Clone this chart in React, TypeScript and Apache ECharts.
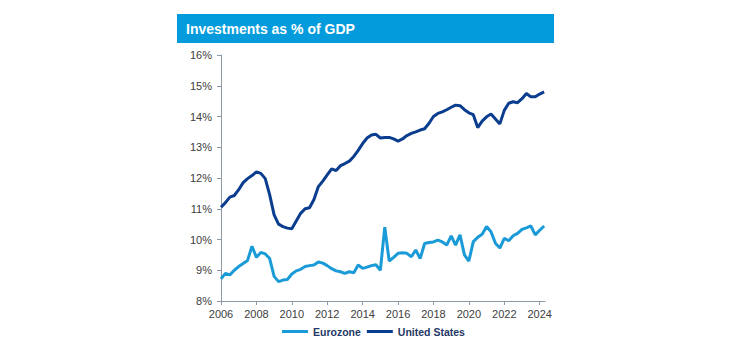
import React, { useEffect, useRef } from "react";
import * as echarts from "echarts";

const startYear = 2006;
const eurozone: number[] = [
  8.72, 8.9, 8.85, 9.0, 9.12, 9.22, 9.32, 9.78, 9.42, 9.58, 9.53, 9.38, 8.8, 8.63, 8.68, 8.7,
  8.88, 8.98, 9.03, 9.12, 9.15, 9.17, 9.27, 9.23, 9.15, 9.05, 8.98, 8.95, 8.9, 8.95, 8.92, 9.17,
  9.06, 9.1, 9.15, 9.18, 9.0, 10.4, 9.3, 9.42, 9.55, 9.57, 9.55, 9.44, 9.66, 9.38, 9.87, 9.9,
  9.92, 9.98, 9.92, 9.82, 10.12, 9.82, 10.15, 9.5, 9.3, 9.93, 10.07, 10.17, 10.42, 10.25, 9.88, 9.72,
  10.04, 9.96, 10.12, 10.2, 10.33, 10.38, 10.44, 10.15, 10.3, 10.44,
];
const unitedStates: number[] = [
  11.05, 11.2, 11.38, 11.43, 11.62, 11.85, 11.98, 12.08, 12.2, 12.15, 11.98, 11.45, 10.8, 10.5, 10.42, 10.37,
  10.35, 10.6, 10.85, 11.0, 11.03, 11.3, 11.72, 11.9, 12.1, 12.3, 12.24, 12.4, 12.47, 12.55, 12.7, 12.9,
  13.12, 13.3, 13.4, 13.42, 13.3, 13.32, 13.32, 13.27, 13.2, 13.27, 13.38, 13.45, 13.5, 13.56, 13.6, 13.78,
  14.0, 14.1, 14.15, 14.22, 14.3, 14.37, 14.35, 14.22, 14.12, 14.06, 13.64, 13.85, 13.99, 14.08, 13.92, 13.76,
  14.2, 14.43, 14.48, 14.45, 14.58, 14.75, 14.64, 14.64, 14.73, 14.8,
];
const seriesNames = ["Eurozone", "United States"];
const titleText = "Investments as % of GDP";

const toPoints = (vals: number[]) => vals.map((v, i) => [startYear + i / 4, v]);

const FONT = "'Liberation Sans', Arial, sans-serif";

export default function App() {
  const ref = useRef<HTMLDivElement>(null);
  useEffect(() => {
    if (!ref.current) return;
    const chart = echarts.init(ref.current, undefined, { renderer: "svg" });
    chart.setOption({
      animation: false,
      backgroundColor: "#ffffff",
      textStyle: { fontFamily: FONT },
      graphic: [
        {
          type: "rect",
          shape: { x: 177, y: 14, width: 377, height: 29 },
          style: { fill: "#039bdc" },
          silent: true,
        },
        {
          type: "text",
          x: 186,
          y: 29,
          style: {
            text: titleText,
            fill: "#ffffff",
            font: `bold 14px ${FONT}`,
            textVerticalAlign: "middle",
          },
          silent: true,
        },
      ],
      legend: {
        data: seriesNames,
        left: 282,
        top: 326,
        padding: 0,
        icon: "rect",
        itemWidth: 26,
        itemHeight: 3,
        itemGap: 6,
        textStyle: { fontFamily: FONT, fontSize: 10.5, fontWeight: "bold", color: "#1f3864" },
      },
      grid: { left: 221, top: 55, width: 324, height: 246 },
      xAxis: {
        type: "value",
        min: 2006,
        max: 2024.3,
        interval: 2,
        axisLine: { show: true, lineStyle: { color: "#8c9aa8", width: 1 } },
        axisTick: { show: true, length: 4, lineStyle: { color: "#8c9aa8" } },
        axisLabel: {
          color: "#404040",
          fontSize: 11,
          fontFamily: FONT,
          margin: 7,
          showMaxLabel: false,
          formatter: (v: number) => (Math.abs(v - Math.round(v)) < 1e-6 ? String(Math.round(v)) : ""),
        },
        splitLine: { show: false },
      },
      yAxis: {
        type: "value",
        min: 8,
        max: 16,
        interval: 1,
        axisLine: { show: true, lineStyle: { color: "#8c9aa8", width: 1 } },
        axisTick: { show: true, length: 4, lineStyle: { color: "#8c9aa8" } },
        axisLabel: { color: "#404040", fontSize: 11, fontFamily: FONT, margin: 9, formatter: "{value}%" },
        splitLine: { show: false },
      },
      series: [
        {
          name: seriesNames[0],
          type: "line",
          data: toPoints(eurozone),
          showSymbol: false,
          symbol: "none",
          lineStyle: { width: 3, color: "#1a9bd7" },
          itemStyle: { color: "#1a9bd7" },
        },
        {
          name: seriesNames[1],
          type: "line",
          data: toPoints(unitedStates),
          showSymbol: false,
          symbol: "none",
          lineStyle: { width: 3, color: "#0b3d8f" },
          itemStyle: { color: "#0b3d8f" },
        },
      ],
    });
    return () => chart.dispose();
  }, []);
  return (
    <div
      ref={ref}
      style={{ position: "fixed", left: 0, top: 0, width: 750, height: 350 }}
    />
  );
}
